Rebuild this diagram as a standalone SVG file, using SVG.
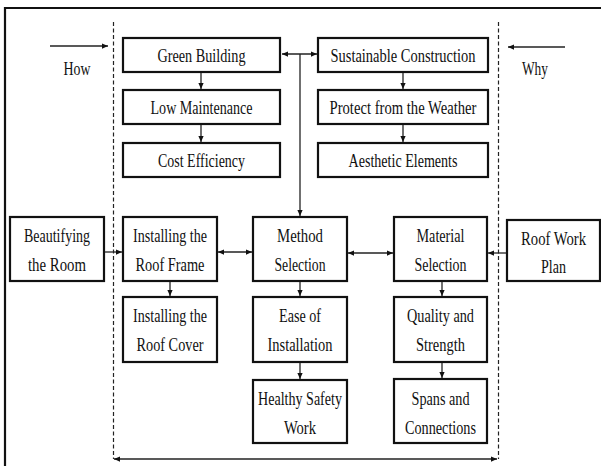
<svg xmlns="http://www.w3.org/2000/svg" width="601" height="466" viewBox="0 0 601 466">
<style>
.box{fill:#fff;stroke:#111;stroke-width:2.2}
.t{font-family:"Liberation Serif","Times New Roman",serif;font-size:19px;fill:#111;text-anchor:middle;lengthAdjust:spacingAndGlyphs}
.c{fill:none;stroke:#222;stroke-width:1.3}
.frame{fill:none;stroke:#111;stroke-width:2.2}
.dash{fill:none;stroke:#222;stroke-width:1.2;stroke-dasharray:4 2.5}
</style>
<defs>
<marker id="ah" viewBox="0 0 8 8" refX="8" refY="4" markerWidth="6" markerHeight="6" markerUnits="userSpaceOnUse" orient="auto-start-reverse">
<path d="M0,0.5 L8,4 L0,7.5 z" fill="#111"/>
</marker>
</defs>
<rect width="601" height="466" fill="#fff"/>
<path class="frame" d="M5,466 V8 H601"/>
<line class="dash" x1="113.5" y1="22" x2="113.5" y2="459"/>
<line class="dash" x1="498.5" y1="22" x2="498.5" y2="459"/>

<g id="how"><text class="t" x="77" y="75" textLength="27" lengthAdjust="spacingAndGlyphs">How</text></g>
<g id="why"><text class="t" x="535" y="75" textLength="26" lengthAdjust="spacingAndGlyphs">Why</text></g>

<g id="green-building"><rect class="box" x="123" y="38" width="157" height="34"/><text class="t" x="201.5" y="62" textLength="88" lengthAdjust="spacingAndGlyphs">Green Building</text></g>
<g id="low-maintenance"><rect class="box" x="123" y="90" width="157" height="34"/><text class="t" x="201.5" y="113.5" textLength="102" lengthAdjust="spacingAndGlyphs">Low Maintenance</text></g>
<g id="cost-efficiency"><rect class="box" x="123" y="143" width="157" height="34"/><text class="t" x="201.5" y="166.5" textLength="87" lengthAdjust="spacingAndGlyphs">Cost Efficiency</text></g>

<g id="sustainable-construction"><rect class="box" x="318" y="38" width="170" height="34"/><text class="t" x="403" y="62" textLength="145" lengthAdjust="spacingAndGlyphs">Sustainable Construction</text></g>
<g id="protect-weather"><rect class="box" x="318" y="90" width="170" height="34"/><text class="t" x="403" y="113.5" textLength="147" lengthAdjust="spacingAndGlyphs">Protect from the Weather</text></g>
<g id="aesthetic-elements"><rect class="box" x="318" y="143" width="170" height="34"/><text class="t" x="403" y="166.5" textLength="109" lengthAdjust="spacingAndGlyphs">Aesthetic Elements</text></g>

<g id="beautifying-room"><rect class="box" x="10" y="217" width="94" height="64"/><text class="t" x="57" y="242" textLength="66" lengthAdjust="spacingAndGlyphs">Beautifying</text><text class="t" x="57" y="271" textLength="58" lengthAdjust="spacingAndGlyphs">the Room</text></g>
<g id="installing-roof-frame"><rect class="box" x="123" y="217" width="94" height="64"/><text class="t" x="170" y="242" textLength="74" lengthAdjust="spacingAndGlyphs">Installing the</text><text class="t" x="170" y="271" textLength="69" lengthAdjust="spacingAndGlyphs">Roof Frame</text></g>
<g id="installing-roof-cover"><rect class="box" x="123" y="297" width="94" height="65"/><text class="t" x="170" y="322" textLength="74" lengthAdjust="spacingAndGlyphs">Installing the</text><text class="t" x="170" y="351" textLength="67" lengthAdjust="spacingAndGlyphs">Roof Cover</text></g>

<g id="method-selection"><rect class="box" x="253" y="217" width="94" height="64"/><text class="t" x="300" y="242" textLength="46" lengthAdjust="spacingAndGlyphs">Method</text><text class="t" x="300" y="271" textLength="51" lengthAdjust="spacingAndGlyphs">Selection</text></g>
<g id="ease-installation"><rect class="box" x="253" y="297" width="94" height="65"/><text class="t" x="300" y="322" textLength="42" lengthAdjust="spacingAndGlyphs">Ease of</text><text class="t" x="300" y="351" textLength="65" lengthAdjust="spacingAndGlyphs">Installation</text></g>
<g id="healthy-safety-work"><rect class="box" x="253" y="380" width="94" height="63"/><text class="t" x="300" y="405" textLength="84" lengthAdjust="spacingAndGlyphs">Healthy Safety</text><text class="t" x="300" y="433.5" textLength="32" lengthAdjust="spacingAndGlyphs">Work</text></g>

<g id="material-selection"><rect class="box" x="394" y="217" width="93" height="64"/><text class="t" x="440.5" y="242" textLength="48" lengthAdjust="spacingAndGlyphs">Material</text><text class="t" x="440.5" y="271" textLength="52" lengthAdjust="spacingAndGlyphs">Selection</text></g>
<g id="quality-strength"><rect class="box" x="394" y="297" width="93" height="65"/><text class="t" x="440.5" y="322" textLength="67" lengthAdjust="spacingAndGlyphs">Quality and</text><text class="t" x="440.5" y="351" textLength="49" lengthAdjust="spacingAndGlyphs">Strength</text></g>
<g id="spans-connections"><rect class="box" x="394" y="379" width="93" height="64"/><text class="t" x="440.5" y="404.5" textLength="58" lengthAdjust="spacingAndGlyphs">Spans and</text><text class="t" x="440.5" y="433.5" textLength="71" lengthAdjust="spacingAndGlyphs">Connections</text></g>

<g id="roof-work-plan"><rect class="box" x="507" y="220" width="93" height="61"/><text class="t" x="553.5" y="245" textLength="65" lengthAdjust="spacingAndGlyphs">Roof Work</text><text class="t" x="553.5" y="273" textLength="25" lengthAdjust="spacingAndGlyphs">Plan</text></g>

<g id="connectors">
<line class="c" x1="50" y1="46" x2="108" y2="46" marker-end="url(#ah)"/>
<line class="c" x1="565" y1="47" x2="508" y2="47" marker-end="url(#ah)"/>
<line class="c" x1="282" y1="54" x2="317" y2="54" marker-start="url(#ah)" marker-end="url(#ah)"/>
<line class="c" x1="300" y1="54" x2="300" y2="216" marker-end="url(#ah)"/>
<line class="c" x1="201" y1="73" x2="201" y2="89" marker-end="url(#ah)"/>
<line class="c" x1="201" y1="125" x2="201" y2="142" marker-end="url(#ah)"/>
<line class="c" x1="403" y1="73" x2="403" y2="89" marker-end="url(#ah)"/>
<line class="c" x1="403" y1="125" x2="403" y2="142" marker-end="url(#ah)"/>
<line class="c" x1="105" y1="252" x2="122" y2="252" marker-end="url(#ah)"/>
<line class="c" x1="218" y1="252" x2="252" y2="252" marker-start="url(#ah)" marker-end="url(#ah)"/>
<line class="c" x1="348" y1="253" x2="393" y2="253" marker-start="url(#ah)" marker-end="url(#ah)"/>
<line class="c" x1="506" y1="253" x2="488" y2="253" marker-end="url(#ah)"/>
<line class="c" x1="170" y1="282" x2="170" y2="296" marker-end="url(#ah)"/>
<line class="c" x1="300" y1="282" x2="300" y2="296" marker-end="url(#ah)"/>
<line class="c" x1="300" y1="363" x2="300" y2="379" marker-end="url(#ah)"/>
<line class="c" x1="442" y1="282" x2="442" y2="296" marker-end="url(#ah)"/>
<line class="c" x1="442" y1="363" x2="442" y2="378" marker-end="url(#ah)"/>
<line class="c" x1="114" y1="459" x2="497" y2="459" stroke-width="1.8" marker-start="url(#ah)" marker-end="url(#ah)"/>
</g>
</svg>
